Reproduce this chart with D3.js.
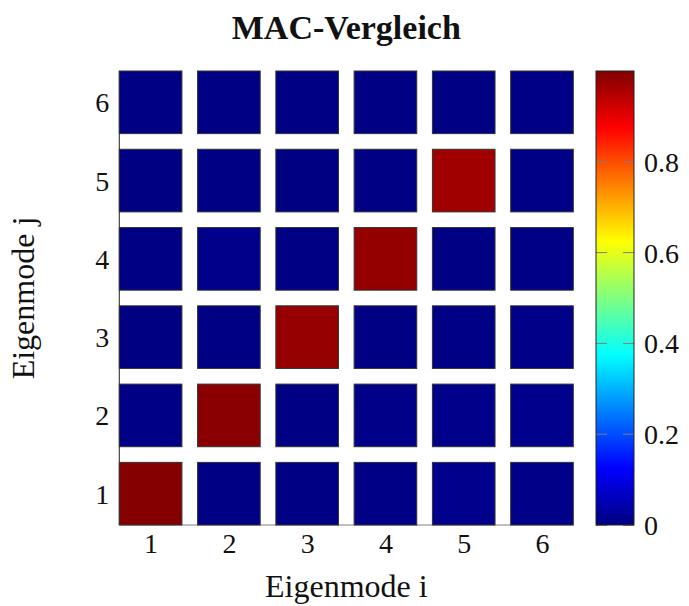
<!DOCTYPE html>
<html>
<head>
<meta charset="utf-8">
<script src="https://cdn.jsdelivr.net/npm/d3@7"></script>
<style>
  html, body { margin: 0; padding: 0; background: #fff; }
  svg { display: block; }
  text { font-family: "Liberation Serif", "Times New Roman", serif; fill: #111; }
</style>
</head>
<body>
<svg id="chart" width="689" height="606"></svg>
<script>
// Mode indices along each axis
const modesI = [1, 2, 3, 4, 5, 6];
const modesJ = [1, 2, 3, 4, 5, 6];

// MAC values, one row per mode j (row j = 1 first), columns are mode i = 1..6
const macRow1 = [0.995, 0.005, 0.004, 0.006, 0.012, 0.008];
const macRow2 = [0.006, 0.990, 0.004, 0.008, 0.010, 0.012];
const macRow3 = [0.003, 0.004, 0.978, 0.005, 0.006, 0.008];
const macRow4 = [0.004, 0.010, 0.004, 0.980, 0.005, 0.006];
const macRow5 = [0.003, 0.004, 0.003, 0.004, 0.968, 0.006];
const macRow6 = [0.004, 0.004, 0.005, 0.004, 0.005, 0.006];
const macRows = [macRow1, macRow2, macRow3, macRow4, macRow5, macRow6];

// Colour bar ticks
const colorbarTicks = [0, 0.2, 0.4, 0.6, 0.8];

const titleText = "MAC-Vergleich";
const xLabelText = "Eigenmode i";
const yLabelText = "Eigenmode j";

// Classic "jet" colormap
function jet(v) {
  const c = t => Math.max(0, Math.min(1, t));
  const r = c(1.5 - Math.abs(4 * v - 3));
  const g = c(1.5 - Math.abs(4 * v - 2));
  const b = c(1.5 - Math.abs(4 * v - 1));
  return d3.rgb(Math.round(r * 255), Math.round(g * 255), Math.round(b * 255)).formatHex();
}

const svg = d3.select("#chart");

const plot = { left: 119.3, right: 573.3, top: 71, bottom: 525 };
const half = 0.4;

const x = d3.scaleLinear().domain([1 - half, 6 + half]).range([plot.left, plot.right]);
const y = d3.scaleLinear().domain([1 - half, 6 + half]).range([plot.bottom, plot.top]);

const cbar = { left: 596, right: 634, top: 71, bottom: 525 };
const cScale = d3.scaleLinear().domain([0, 1]).range([cbar.bottom, cbar.top]);
const color = v => jet(v);

const tickFont = "28px";

// Flatten the matrix into cells
const cells = [];
macRows.forEach((row, rj) => {
  row.forEach((v, ci) => cells.push({ i: modesI[ci], j: modesJ[rj], v }));
});

// Axis lines (left and bottom)
svg.append("line")
  .attr("x1", plot.left).attr("x2", plot.right)
  .attr("y1", plot.bottom).attr("y2", plot.bottom)
  .attr("stroke", "#808080").attr("stroke-width", 1);
svg.append("line")
  .attr("x1", plot.left).attr("x2", plot.left)
  .attr("y1", plot.top).attr("y2", plot.bottom)
  .attr("stroke", "#222").attr("stroke-width", 1);

// Matrix cells
svg.append("g").selectAll("rect")
  .data(cells)
  .join("rect")
  .attr("x", d => x(d.i - half))
  .attr("y", d => y(d.j + half))
  .attr("width", d => x(d.i + half) - x(d.i - half))
  .attr("height", d => y(d.j - half) - y(d.j + half))
  .attr("fill", d => color(d.v))
  .attr("stroke", "#333")
  .attr("stroke-width", 1);

// Tick labels
const xAxis = svg.append("g")
  .attr("transform", `translate(0,${plot.bottom})`)
  .call(d3.axisBottom(x).tickValues(modesI).tickFormat(d3.format("d")).tickSize(0).tickPadding(0));
xAxis.select(".domain").remove();
xAxis.selectAll("text")
  .attr("y", 28)
  .attr("dy", null)
  .style("font-size", tickFont)
  .style("font-family", "Liberation Serif, serif")
  .attr("fill", "#111");

const yAxis = svg.append("g")
  .attr("transform", `translate(${plot.left - 10},0)`)
  .call(d3.axisLeft(y).tickValues(modesJ).tickFormat(d3.format("d")).tickSize(0).tickPadding(0));
yAxis.select(".domain").remove();
yAxis.selectAll("text")
  .attr("x", 0)
  .attr("dy", "0.34em")
  .style("font-size", tickFont)
  .style("font-family", "Liberation Serif, serif")
  .attr("fill", "#111");

// Title and axis labels
svg.append("text")
  .attr("x", (plot.left + plot.right) / 2)
  .attr("y", 39)
  .attr("text-anchor", "middle")
  .style("font-size", "34px")
  .style("font-weight", "bold")
  .text(titleText);

svg.append("text")
  .attr("x", (plot.left + plot.right) / 2)
  .attr("y", 597)
  .attr("text-anchor", "middle")
  .style("font-size", "32px")
  .text(xLabelText);

svg.append("text")
  .attr("transform", `translate(34,${(plot.top + plot.bottom) / 2}) rotate(-90)`)
  .attr("text-anchor", "middle")
  .style("font-size", "32px")
  .text(yLabelText);

// Colour bar
const defs = svg.append("defs");
const grad = defs.append("linearGradient")
  .attr("id", "jetGrad")
  .attr("x1", 0).attr("y1", 1).attr("x2", 0).attr("y2", 0);
[0, 0.125, 0.375, 0.625, 0.875, 1].forEach(s => {
  grad.append("stop").attr("offset", s).attr("stop-color", jet(s));
});

svg.append("rect")
  .attr("x", cbar.left).attr("y", cbar.top)
  .attr("width", cbar.right - cbar.left)
  .attr("height", cbar.bottom - cbar.top)
  .attr("fill", "url(#jetGrad)");

const cTicks = svg.append("g");
colorbarTicks.forEach(t => {
  const yy = cScale(t);
  cTicks.append("line")
    .attr("x1", cbar.left).attr("x2", cbar.left + 11)
    .attr("y1", yy).attr("y2", yy)
    .attr("stroke", t === 0 ? "#222" : "#7f7f7f").attr("stroke-width", 1);
  cTicks.append("line")
    .attr("x1", cbar.right - 11).attr("x2", cbar.right)
    .attr("y1", yy).attr("y2", yy)
    .attr("stroke", t === 0 ? "#222" : "#7f7f7f").attr("stroke-width", 1);
});

svg.append("rect")
  .attr("x", cbar.left).attr("y", cbar.top)
  .attr("width", cbar.right - cbar.left)
  .attr("height", cbar.bottom - cbar.top)
  .attr("fill", "none")
  .attr("stroke", "#222").attr("stroke-width", 1);

const cAxis = svg.append("g")
  .attr("transform", `translate(${cbar.right + 10},0)`)
  .call(d3.axisRight(cScale).tickValues(colorbarTicks).tickFormat(d => d === 0 ? "0" : d3.format(".1f")(d)).tickSize(0).tickPadding(0));
cAxis.select(".domain").remove();
cAxis.selectAll("text")
  .attr("x", 0)
  .attr("dy", "0.34em")
  .style("font-size", tickFont)
  .style("font-family", "Liberation Serif, serif")
  .attr("fill", "#111");
</script>
</body>
</html>
